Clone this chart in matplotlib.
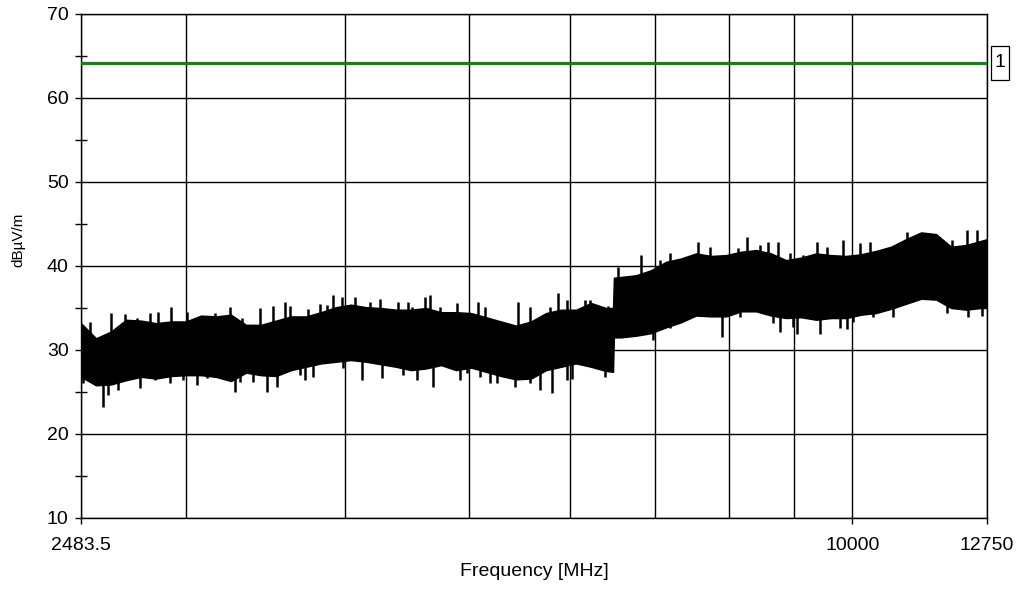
import matplotlib
matplotlib.use('Agg')
import numpy as np
import matplotlib.pyplot as plt
from matplotlib.patches import Rectangle

plt.rcParams['font.family'] = ['Liberation Sans', 'DejaVu Sans']

freq = [2483.5, 2551.7, 2621.8, 2693.8, 2767.7, 2843.7, 2921.8, 3002.0, 3084.4,
        3169.1, 3256.1, 3345.5, 3437.4, 3531.8, 3628.8, 3728.4, 3830.8, 3936.0,
        4044.0, 4155.1, 4269.2, 4386.4, 4506.8, 4630.5, 4757.7, 4888.3, 5022.5,
        5160.4, 5302.1, 5447.7, 5597.3, 5751.0, 5908.9, 6071.1, 6237.8, 6409.1,
        6490.0, 6500.0,
        6585.1, 6765.9, 6951.7, 7142.5, 7338.6, 7540.1, 7747.2, 7959.9, 8178.4,
        8403.0, 8633.7, 8870.8, 9114.3, 9364.6, 9621.7, 9885.9, 10157.3, 10436.2,
        10722.8, 11017.2, 11319.7, 11630.5, 11949.8, 12277.9, 12615.0, 12750.0]
upper = [33.2, 31.4, 32.2, 33.6, 33.5, 33.2, 33.4, 33.4, 34.1,
         34.0, 34.2, 33.0, 33.0, 33.5, 34.0, 34.0, 34.5, 35.1,
         35.4, 35.1, 35.0, 34.8, 34.8, 35.0, 34.5, 34.5, 34.4,
         33.9, 33.4, 32.9, 33.4, 34.4, 34.8, 34.8, 35.6, 35.0,
         35.0, 38.6,
         38.7, 38.9, 39.5, 40.5, 40.9, 41.5, 41.2, 41.3, 41.7,
         41.9, 41.5, 40.7, 41.0, 41.5, 41.3, 41.2, 41.4, 41.8,
         42.3, 43.2, 44.0, 43.8, 42.3, 42.5, 43.0, 43.2]
lower = [26.8, 25.8, 25.9, 26.4, 26.8, 26.6, 26.9, 27.0, 27.0,
         26.8, 26.3, 27.3, 27.0, 26.9, 27.6, 28.0, 28.4, 28.6,
         28.8, 28.6, 28.3, 28.0, 27.6, 27.8, 28.2, 27.6, 27.9,
         27.4, 26.9, 26.5, 26.6, 27.6, 28.0, 28.4, 28.0, 27.5,
         27.4, 31.5,
         31.5, 31.7, 32.0, 32.7, 33.3, 34.1, 34.0, 34.0, 34.6,
         34.6, 34.1, 33.8, 33.9, 33.6, 33.8, 33.8, 34.2, 34.4,
         34.9, 35.5, 36.1, 36.0, 35.0, 34.8, 35.0, 35.0]

# single peaks sticking out of the band
peak_up_f = [2524, 2622, 2689, 2748, 2813, 2854, 2922, 3007, 3079, 3163, 3250,
             3321, 3431, 3513, 3590, 3622, 3742, 3824, 3872, 3915, 3979, 4073,
             4185, 4261, 4402, 4482, 4515, 4622, 4664, 4749, 4897, 5086, 5151,
             5467, 5587, 5792, 5877, 5972, 6170, 6226, 6432, 6549, 6826, 7065,
             7193, 7567, 7732, 8134, 8266, 8463, 8586, 8742, 8934, 9146, 9380,
             9551, 9831, 10138, 10323, 10511, 11036, 11359, 11970, 12297, 12522]
peak_up_v = [33.3, 34.4, 34.3, 33.8, 34.4, 34.5, 35.1, 34.5, 33.9, 34.4, 35.1,
             33.8, 35.0, 35.2, 35.7, 35.2, 34.9, 35.5, 35.4, 36.5, 36.3, 36.3,
             35.7, 36.1, 35.7, 35.7, 35.1, 36.3, 36.5, 35.1, 35.6, 35.7, 35.1,
             35.7, 35.1, 35.1, 36.8, 35.9, 36.0, 35.9, 35.2, 39.9, 41.3, 40.7,
             41.5, 42.9, 42.3, 42.1, 43.5, 42.5, 42.9, 42.8, 41.5, 41.3, 42.8,
             42.3, 43.1, 42.7, 42.9, 41.9, 44.0, 43.9, 43.1, 44.3, 44.3]
peak_dn_f = [2492.5, 2547, 2584, 2608, 2655, 2763, 2839, 2916, 2986, 3062, 3118,
             3280, 3309, 3388, 3475, 3538, 3688, 3721, 3776, 3986, 4125, 4277,
             4442, 4556, 4689, 4924, 4986, 5105, 5198, 5264, 5438, 5587, 5689,
             5813, 5972, 6027, 6397, 6913, 6976, 7193, 7458, 7902, 8163, 8664,
             8774, 8982, 9047, 9431, 9778, 9902, 10010, 10379, 10760, 11862,
             12320, 12635]
peak_dn_v = [26.1, 25.8, 23.2, 24.6, 25.2, 25.5, 26.4, 26.1, 26.4, 25.8, 26.7,
             25.0, 26.2, 26.2, 25.0, 25.6, 27.0, 26.4, 26.8, 27.9, 26.4, 26.7,
             27.0, 26.4, 25.6, 26.4, 27.3, 26.8, 26.1, 26.1, 25.6, 26.1, 25.2,
             24.9, 26.4, 26.5, 26.8, 32.4, 31.2, 32.6, 33.8, 31.5, 33.9, 33.2,
             32.2, 32.7, 31.9, 31.9, 32.6, 32.5, 33.3, 33.9, 33.9, 34.4,
             33.9, 34.1]

limit_value = 64.2
limit_label = '1'

x_ticks = [2483.5, 10000, 12750]
x_ticklabels = ['2483.5', '10000', '12750']
x_grid = [3000, 4000, 5000, 6000, 7000, 8000, 9000]

fig = plt.figure(figsize=(10.18, 6.04), dpi=100)
ax = fig.add_axes([81 / 1018, 1 - 518 / 604, 906 / 1018, 504 / 604])

ax.set_xscale('log')
ax.set_xlim(2483.5, 12750)
ax.set_ylim(10, 70)

ax.fill_between(freq, lower, upper, color='black', lw=1.0,
                edgecolor='black', zorder=3)
up_base = np.interp(peak_up_f, freq, upper) - 1.0
dn_base = np.interp(peak_dn_f, freq, lower) + 1.0
ax.vlines(peak_up_f, up_base, peak_up_v, color='black', lw=1.8, zorder=3)
ax.vlines(peak_dn_f, peak_dn_v, dn_base, color='black', lw=1.8, zorder=3)

ax.axhline(limit_value, color='#1f7a1f', lw=2.3, zorder=4)
ax.add_patch(Rectangle((1.0044, limit_value - 2.05), 0.0199, 4.05,
                       transform=ax.get_yaxis_transform(), fill=False,
                       edgecolor='black', lw=0.9, clip_on=False))
ax.text(1.0143, limit_value, limit_label, transform=ax.get_yaxis_transform(),
        ha='center', va='center', fontsize=14)

ax.set_xticks(x_ticks)
ax.set_xticklabels(x_ticklabels)
ax.set_xticks(x_grid, minor=True)
ax.set_xticklabels([], minor=True)
ax.tick_params(axis='x', which='minor', length=0)
ax.set_yticks(np.arange(10, 71, 10))
ax.set_yticks(np.arange(15, 70, 10), minor=True)
ax.tick_params(axis='both', which='major', direction='out', length=4,
               width=1, labelsize=14, color='black')
ax.tick_params(axis='y', which='major', pad=5)
ax.tick_params(axis='x', which='major', pad=10)
ax.tick_params(axis='y', which='minor', direction='inout', length=8, width=1)

ax.grid(True, which='major', axis='y', color='black', lw=1.0, zorder=1)
ax.grid(True, which='both', axis='x', color='black', lw=1.0, zorder=1)
ax.set_axisbelow(True)
for s in ax.spines.values():
    s.set_linewidth(1.0)
    s.set_color('black')

ax.set_xlabel('Frequency [MHz]', fontsize=14, labelpad=6)
ax.set_ylabel('dBµV/m', fontsize=11)
ax.yaxis.set_label_coords(-0.061, 0.552)

fig.savefig('out.png', dpi=100)
